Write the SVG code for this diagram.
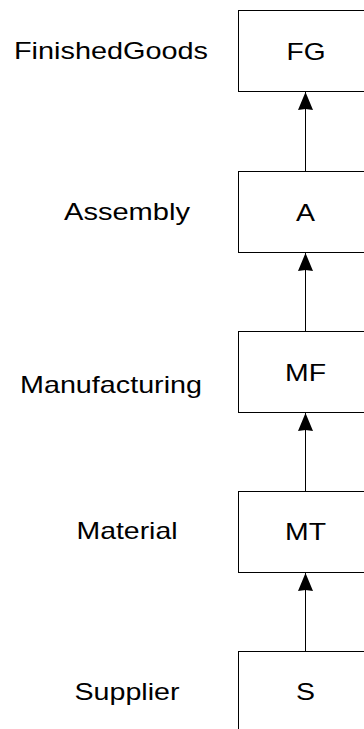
<svg xmlns="http://www.w3.org/2000/svg" width="364" height="729" viewBox="0 0 364 729">
<style>
.box{fill:#fff;stroke:#000;stroke-width:1}
.t{font-family:"Liberation Sans",Arial,sans-serif;font-size:24px;fill:#000;text-anchor:middle}
.edge{stroke:#000;stroke-width:1;fill:none;marker-end:url(#ah)}
</style>
<defs>
<marker id="ah" markerUnits="userSpaceOnUse" markerWidth="22" markerHeight="22" viewBox="-20 -11 22 22" refX="0" refY="0" orient="auto" overflow="visible">
<path d="M0,0 L-18,7.5 L-17,0 L-18,-7.5 Z" fill="#000"/>
</marker>
</defs>
<rect width="364" height="729" fill="#fff"/>
<g id="FG">
<rect class="box" x="238.5" y="10.5" width="140" height="81"/>
<text class="t" x="306" y="60" textLength="39" lengthAdjust="spacingAndGlyphs">FG</text>
<text class="t" x="111" y="59" textLength="194" lengthAdjust="spacingAndGlyphs">FinishedGoods</text>
</g>
<g id="A">
<rect class="box" x="238.5" y="171.5" width="140" height="81"/>
<text class="t" x="305.5" y="221" textLength="19" lengthAdjust="spacingAndGlyphs">A</text>
<text class="t" x="127" y="220" textLength="126" lengthAdjust="spacingAndGlyphs">Assembly</text>
</g>
<g id="MF">
<rect class="box" x="238.5" y="331.5" width="140" height="81"/>
<text class="t" x="305.5" y="381" textLength="41" lengthAdjust="spacingAndGlyphs">MF</text>
<text class="t" x="111" y="393" textLength="182" lengthAdjust="spacingAndGlyphs">Manufacturing</text>
</g>
<g id="MT">
<rect class="box" x="238.5" y="491.5" width="140" height="81"/>
<text class="t" x="305.5" y="540" textLength="41" lengthAdjust="spacingAndGlyphs">MT</text>
<text class="t" x="127" y="539" textLength="101" lengthAdjust="spacingAndGlyphs">Material</text>
</g>
<g id="S">
<rect class="box" x="238.5" y="651.5" width="140" height="100"/>
<text class="t" x="305.5" y="700" textLength="19" lengthAdjust="spacingAndGlyphs">S</text>
<text class="t" x="127" y="700" textLength="105" lengthAdjust="spacingAndGlyphs">Supplier</text>
</g>
<g id="connectors">
<line class="edge" x1="305.5" y1="651.5" x2="305.5" y2="573"/>
<line class="edge" x1="305.5" y1="491.5" x2="305.5" y2="413"/>
<line class="edge" x1="305.5" y1="331.5" x2="305.5" y2="253"/>
<line class="edge" x1="305.5" y1="171.5" x2="305.5" y2="92"/>
</g>
</svg>
